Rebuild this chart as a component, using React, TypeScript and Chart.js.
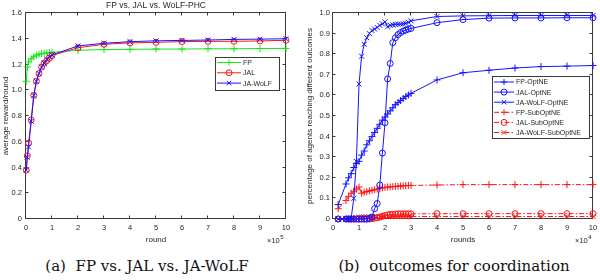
import React, { useEffect, useRef } from 'react';
import { Chart, registerables } from 'chart.js';

Chart.register(...registerables);

const FONT = '"Liberation Sans", Arial, Helvetica, sans-serif';
const TEXT = '#262626';
const AXIS = '#3a3a3a';
const GREEN = 'rgb(20,230,20)';
const RED = 'rgb(255,20,20)';
const BLUE = 'rgb(20,20,255)';

// ---- (a) FP vs. JAL vs. WoLF-PHC : x in units of 10^5 rounds ----
const leftRounds = [0.01, 0.05, 0.1, 0.2, 0.3, 0.4, 0.5, 0.6, 0.7, 0.8, 0.9, 1, 2, 3, 4, 5, 6, 7, 8, 9, 10];
const fpReward = [1.07, 1.18, 1.22, 1.245, 1.26, 1.272, 1.28, 1.284, 1.287, 1.29, 1.292, 1.295, 1.31, 1.316, 1.318, 1.32, 1.32, 1.322, 1.322, 1.324, 1.325];
const jalReward = [0.38, 0.49, 0.59, 0.77, 0.96, 1.07, 1.13, 1.18, 1.21, 1.23, 1.25, 1.27, 1.33, 1.357, 1.368, 1.372, 1.378, 1.38, 1.38, 1.383, 1.388];
const wolfReward = [0.38, 0.48, 0.56, 0.76, 0.96, 1.07, 1.13, 1.18, 1.21, 1.24, 1.26, 1.275, 1.344, 1.365, 1.377, 1.384, 1.387, 1.39, 1.395, 1.397, 1.4];

// ---- (b) outcomes for coordination : x in units of 10^4 rounds ----
const rightRounds = [0.2, 0.5, 0.6, 0.7, 0.8, 0.9, 1.0, 1.1, 1.2, 1.3, 1.4, 1.5, 1.6, 1.7, 1.8, 1.9, 2.0, 2.1, 2.2, 2.3, 2.4, 2.5, 2.6, 2.7, 2.8, 2.9, 3.0, 4, 5, 6, 7, 8, 9, 10];
const fpOpt = [0.07, 0.17, 0.2, 0.22, 0.25, 0.27, 0.28, 0.31, 0.33, 0.36, 0.38, 0.4, 0.42, 0.44, 0.46, 0.48, 0.495, 0.51, 0.525, 0.54, 0.555, 0.565, 0.575, 0.585, 0.595, 0.602, 0.61, 0.675, 0.71, 0.722, 0.733, 0.74, 0.742, 0.745];
const jalOpt = [0, 0, 0, 0, 0, 0, 0, 0, 0, 0, 0.003, 0.01, 0.05, 0.075, 0.165, 0.32, 0.467, 0.68, 0.755, 0.856, 0.88, 0.895, 0.905, 0.912, 0.917, 0.922, 0.925, 0.953, 0.968, 0.975, 0.976, 0.976, 0.977, 0.977];
const wolfOpt = [0, 0, 0, 0.005, 0.1, 0.28, 0.655, 0.79, 0.848, 0.88, 0.9, 0.915, 0.922, 0.93, 0.94, 0.947, 0.957, 0.933, 0.94, 0.943, 0.945, 0.945, 0.946, 0.948, 0.95, 0.955, 0.962, 0.983, 0.986, 0.987, 0.988, 0.988, 0.988, 0.988];
const fpSub = [0.05, 0.09, 0.11, 0.125, 0.135, 0.145, 0.155, 0.125, 0.13, 0.133, 0.136, 0.139, 0.142, 0.145, 0.148, 0.151, 0.153, 0.155, 0.156, 0.157, 0.158, 0.159, 0.16, 0.161, 0.162, 0.163, 0.163, 0.165, 0.167, 0.167, 0.167, 0.167, 0.167, 0.167];
const jalSub = [0, 0, 0, 0, 0, 0, 0, 0, 0, 0, 0, 0.002, 0.004, 0.006, 0.009, 0.013, 0.017, 0.02, 0.022, 0.023, 0.024, 0.025, 0.025, 0.025, 0.025, 0.025, 0.025, 0.026, 0.026, 0.026, 0.026, 0.026, 0.026, 0.026];
const wolfSub = [0, 0, 0, 0, 0.002, 0.005, 0.008, 0.01, 0.01, 0.01, 0.01, 0.01, 0.011, 0.011, 0.011, 0.011, 0.012, 0.012, 0.012, 0.012, 0.012, 0.012, 0.012, 0.012, 0.012, 0.012, 0.012, 0.012, 0.012, 0.012, 0.012, 0.012, 0.012, 0.012];

const DASHDOT = [5, 2, 1.5, 2];

type LegendItem = { label: string; color: string; dash: number[]; marker: string };
type Decor = {
  title?: string;
  xLabel: string;
  yLabel: string;
  yLabelX: number;
  exponent: string;
  expX: number;
  legend: { x: number; y: number; w: number; h: number; first: number; row: number; lineLen: number; textX: number; items: LegendItem[] };
};

function drawMarker(ctx: CanvasRenderingContext2D, marker: string, x: number, y: number, r: number, color: string) {
  ctx.save();
  ctx.strokeStyle = color;
  ctx.lineWidth = 1;
  ctx.setLineDash([]);
  ctx.beginPath();
  if (marker === 'cross') {
    ctx.moveTo(x - r, y); ctx.lineTo(x + r, y);
    ctx.moveTo(x, y - r); ctx.lineTo(x, y + r);
  } else if (marker === 'crossRot') {
    const d = r * 0.75;
    ctx.moveTo(x - d, y - d); ctx.lineTo(x + d, y + d);
    ctx.moveTo(x - d, y + d); ctx.lineTo(x + d, y - d);
  } else {
    ctx.arc(x, y, r, 0, Math.PI * 2);
  }
  ctx.stroke();
  ctx.restore();
}

function makeDecor(cfg: Decor) {
  return {
    id: 'decor',
    beforeDatasetsDraw(chart: any) {
      const { ctx, chartArea: a, scales } = chart;
      ctx.save();
      ctx.strokeStyle = AXIS;
      ctx.lineWidth = 1;
      const L = Math.round(a.left) - 0.5, R = Math.round(a.right) - 0.5;
      const T = Math.round(a.top) - 0.5, B = Math.round(a.bottom) - 0.5;
      ctx.strokeRect(L, T, R - L, B - T);
      ctx.beginPath();
      const tl = 3;
      scales.x.ticks.forEach((t: any) => {
        const px = Math.round(scales.x.getPixelForValue(t.value)) - 0.5;
        ctx.moveTo(px, B); ctx.lineTo(px, B - tl);
        ctx.moveTo(px, T); ctx.lineTo(px, T + tl);
      });
      scales.y.ticks.forEach((t: any) => {
        const py = Math.round(scales.y.getPixelForValue(t.value)) - 0.5;
        ctx.moveTo(L, py); ctx.lineTo(L + tl, py);
        ctx.moveTo(R, py); ctx.lineTo(R - tl, py);
      });
      ctx.stroke();

      ctx.fillStyle = TEXT;
      const cx = (a.left + a.right) / 2;
      if (cfg.title) {
        ctx.font = `8.5px ${FONT}`;
        ctx.textAlign = 'center';
        ctx.textBaseline = 'middle';
        ctx.fillText(cfg.title, cx, 6);
      }
      ctx.font = `8px ${FONT}`;
      ctx.textAlign = 'center';
      ctx.textBaseline = 'middle';
      ctx.fillText(cfg.xLabel, cx, 240);
      ctx.save();
      ctx.translate(cfg.yLabelX, (a.top + a.bottom) / 2);
      ctx.rotate(-Math.PI / 2);
      ctx.fillText(cfg.yLabel, 0, 0);
      ctx.restore();

      ctx.font = `7.5px ${FONT}`;
      ctx.textAlign = 'left';
      ctx.textBaseline = 'middle';
      ctx.fillText('\u00d710', cfg.expX, 241);
      const w = ctx.measureText('\u00d710').width;
      ctx.font = `6px ${FONT}`;
      ctx.fillText(cfg.exponent, cfg.expX + w + 0.5, 237.5);
      ctx.restore();
    },
    afterDatasetsDraw(chart: any) {
      const { ctx } = chart;
      const lg = cfg.legend;
      ctx.save();
      ctx.fillStyle = '#fff';
      ctx.fillRect(lg.x, lg.y, lg.w, lg.h);
      ctx.strokeStyle = AXIS;
      ctx.lineWidth = 1;
      ctx.strokeRect(Math.round(lg.x) + 0.5, Math.round(lg.y) + 0.5, Math.round(lg.w), Math.round(lg.h));
      ctx.font = `7px ${FONT}`;
      ctx.textAlign = 'left';
      ctx.textBaseline = 'middle';
      lg.items.forEach((it, i) => {
        const y = lg.y + lg.first + i * lg.row;
        const x0 = lg.x + 2;
        ctx.strokeStyle = it.color;
        ctx.setLineDash(it.dash);
        ctx.beginPath();
        ctx.moveTo(x0, y);
        ctx.lineTo(x0 + lg.lineLen, y);
        ctx.stroke();
        ctx.setLineDash([]);
        drawMarker(ctx, it.marker, x0 + lg.lineLen / 2, y, 3, it.color);
        ctx.fillStyle = TEXT;
        ctx.fillText(it.label, lg.x + lg.textX, y + 0.5);
      });
      ctx.restore();
    },
  };
}

function series(label: string, xs: number[], ys: number[], color: string, marker: string, dash: number[], order: number) {
  return {
    label,
    data: xs.map((x, i) => ({ x, y: ys[i] })),
    borderColor: color,
    backgroundColor: color,
    borderWidth: 1,
    borderDash: dash,
    pointStyle: marker,
    pointRadius: marker === 'circle' ? 3 : 3.5,
    pointBorderColor: color,
    pointBackgroundColor: 'rgba(0,0,0,0)',
    pointBorderWidth: 1,
    tension: 0,
    clip: false as any,
    order,
  };
}

function scaleOpts(min: number, max: number, step: number, isX: boolean, size: number, pad: number) {
  return {
    type: 'linear' as const,
    min,
    max,
    grid: { display: false, drawTicks: false },
    border: { display: false },
    ticks: {
      stepSize: step,
      autoSkip: false,
      maxRotation: 0,
      padding: pad,
      color: TEXT,
      font: { family: FONT, size: 7.5 },
    },
    afterFit(s: any) {
      if (isX) {
        s.height = size;
        s.paddingLeft = 0;
        s.paddingRight = 0;
      } else {
        s.width = size;
        s.paddingTop = 0;
        s.paddingBottom = 0;
      }
    },
  };
}

function leftConfig(): any {
  return {
    type: 'line',
    data: {
      datasets: [
        series('FP', leftRounds, fpReward, GREEN, 'cross', [], 2),
        series('JAL', leftRounds, jalReward, RED, 'circle', [], 1),
        series('JA-WoLF', leftRounds, wolfReward, BLUE, 'crossRot', [], 0),
      ],
    },
    options: {
      animation: false,
      responsive: false,
      layout: { padding: { top: 13, right: 14, left: 0, bottom: 0 } },
      plugins: { legend: { display: false }, tooltip: { enabled: false }, title: { display: false } },
      scales: {
        x: scaleOpts(0, 10, 1, true, 31, 4),
        y: scaleOpts(0, 1.6, 0.2, false, 26, 4),
      },
    },
    plugins: [
      makeDecor({
        title: 'FP vs. JAL vs. WoLF-PHC',
        xLabel: 'round',
        yLabel: 'average reward/round',
        yLabelX: 6,
        exponent: '5',
        expX: 267,
        legend: {
          x: 215, y: 57, w: 64, h: 33, first: 5.5, row: 10.3, lineLen: 24, textX: 28,
          items: [
            { label: 'FP', color: GREEN, dash: [], marker: 'cross' },
            { label: 'JAL', color: RED, dash: [], marker: 'circle' },
            { label: 'JA-WoLF', color: BLUE, dash: [], marker: 'crossRot' },
          ],
        },
      }),
    ],
  };
}

function rightConfig(): any {
  return {
    type: 'line',
    data: {
      datasets: [
        series('FP-OptNE', rightRounds, fpOpt, BLUE, 'cross', [], 0),
        series('JAL-OptNE', rightRounds, jalOpt, BLUE, 'circle', [], 0),
        series('JA-WoLF-OptNE', rightRounds, wolfOpt, BLUE, 'crossRot', [], 0),
        series('FP-SubOptNE', rightRounds, fpSub, RED, 'cross', DASHDOT, 1),
        series('JAL-SubOptNE', rightRounds, jalSub, RED, 'circle', DASHDOT, 1),
        series('JA-WoLF-SubOptNE', rightRounds, wolfSub, RED, 'crossRot', DASHDOT, 1),
      ],
    },
    options: {
      animation: false,
      responsive: false,
      layout: { padding: { top: 13, right: 7, left: 0, bottom: 0 } },
      plugins: { legend: { display: false }, tooltip: { enabled: false }, title: { display: false } },
      scales: {
        x: scaleOpts(0, 10, 1, true, 31, 4),
        y: scaleOpts(0, 1, 0.1, false, 33, 3),
      },
    },
    plugins: [
      makeDecor({
        xLabel: 'rounds',
        yLabel: 'percentage of agents reaching different outcomes',
        yLabelX: 10,
        exponent: '4',
        expX: 275,
        legend: {
          x: 192, y: 76, w: 97, h: 62, first: 6, row: 10.1, lineLen: 20, textX: 24,
          items: [
            { label: 'FP-OptNE', color: BLUE, dash: [], marker: 'cross' },
            { label: 'JAL-OptNE', color: BLUE, dash: [], marker: 'circle' },
            { label: 'JA-WoLF-OptNE', color: BLUE, dash: [], marker: 'crossRot' },
            { label: 'FP-SubOptNE', color: RED, dash: DASHDOT, marker: 'cross' },
            { label: 'JAL-SubOptNE', color: RED, dash: DASHDOT, marker: 'circle' },
            { label: 'JA-WoLF-SubOptNE', color: RED, dash: DASHDOT, marker: 'crossRot' },
          ],
        },
      }),
    ],
  };
}

export default function App() {
  const leftRef = useRef<HTMLCanvasElement>(null);
  const rightRef = useRef<HTMLCanvasElement>(null);

  useEffect(() => {
    const c1 = new Chart(leftRef.current as HTMLCanvasElement, leftConfig());
    const c2 = new Chart(rightRef.current as HTMLCanvasElement, rightConfig());
    return () => {
      c1.destroy();
      c2.destroy();
    };
  }, []);

  const caption: React.CSSProperties = {
    position: 'absolute',
    top: 257,
    font: '15px "DejaVu Serif", serif',
    lineHeight: '18px',
    whiteSpace: 'pre',
    color: '#111',
    textAlign: 'center',
  };

  return (
    <div style={{ position: 'fixed', left: 0, top: 0, width: 600, height: 280, background: '#fff', overflow: 'hidden' }}>
      <canvas ref={leftRef} width={300} height={250} style={{ position: 'absolute', left: 0, top: 0, width: 300, height: 250 }} />
      <canvas ref={rightRef} width={300} height={250} style={{ position: 'absolute', left: 300, top: 0, width: 300, height: 250 }} />
      <div style={{ ...caption, left: 0, width: 294 }}>(a)  FP vs. JAL vs. JA-WoLF</div>
      <div style={{ ...caption, left: 300, width: 308 }}>(b)  outcomes for coordination</div>
    </div>
  );
}
